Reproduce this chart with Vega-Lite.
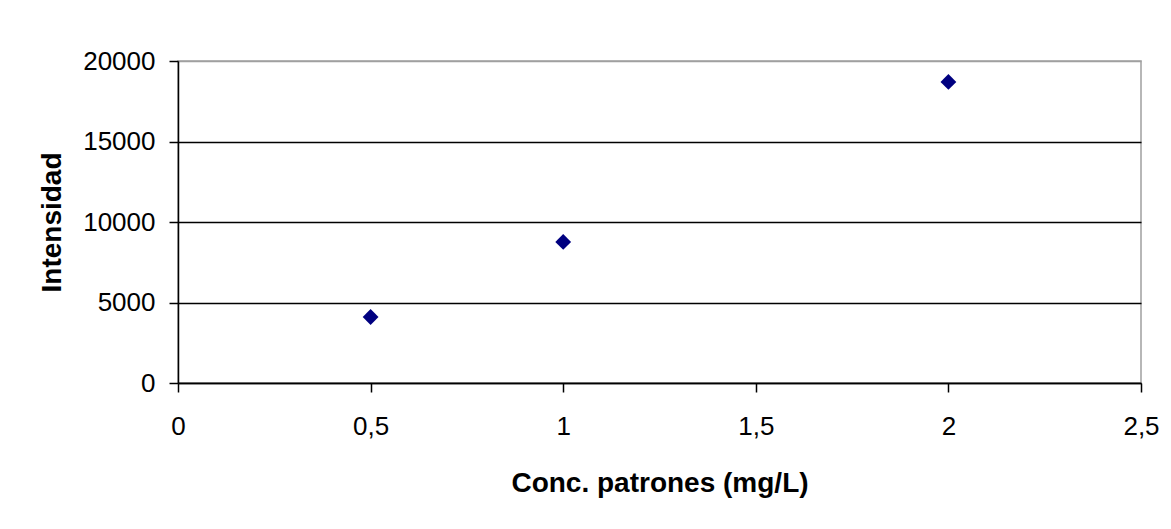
{
  "$schema": "https://vega.github.io/schema/vega-lite/v6.json",
  "width": 963,
  "height": 322,
  "autosize": {"type": "none"},
  "padding": {"left": 178, "top": 61, "right": 30, "bottom": 146},
  "background": "white",
  "config": {
    "font": "Liberation Sans",
    "view": {"stroke": "#a0a0a0", "strokeWidth": 1.5}
  },
  "data": {
    "values": [
      {"conc": 0.5, "intensidad": 4100},
      {"conc": 1, "intensidad": 8760},
      {"conc": 2, "intensidad": 18700}
    ]
  },
  "mark": {"type": "point", "shape": "diamond", "filled": true, "color": "#000080", "size": 250, "opacity": 1},
  "encoding": {
    "x": {
      "field": "conc",
      "type": "quantitative",
      "scale": {"domain": [0, 2.5], "nice": false, "zero": true},
      "axis": {
        "title": "Conc. patrones (mg/L)",
        "values": [0, 0.5, 1, 1.5, 2, 2.5],
        "labelExpr": "replace(toString(datum.value), '.', ',')",
        "grid": false,
        "domainColor": "black",
        "domainWidth": 1.5,
        "tickColor": "black",
        "tickSize": 9,
        "tickWidth": 1.5,
        "labelFont": "Liberation Sans",
        "labelFontSize": 26,
        "labelColor": "black",
        "labelPadding": 21,
        "labelFlush": false,
        "labelOverlap": false,
        "titleFont": "Liberation Sans",
        "titleFontSize": 28,
        "titleFontWeight": "bold",
        "titleColor": "black",
        "titlePadding": 30
      }
    },
    "y": {
      "field": "intensidad",
      "type": "quantitative",
      "scale": {"domain": [0, 20000], "nice": false},
      "axis": {
        "title": "Intensidad",
        "values": [0, 5000, 10000, 15000, 20000],
        "format": "d",
        "grid": true,
        "gridColor": {"condition": {"test": "datum.value === 20000", "value": "#a0a0a0"}, "value": "black"},
        "gridWidth": 1.3,
        "domainColor": "black",
        "domainWidth": 1.5,
        "tickColor": "black",
        "tickSize": 9,
        "tickWidth": 1.5,
        "labelFont": "Liberation Sans",
        "labelFontSize": 26,
        "labelColor": "black",
        "labelPadding": 14,
        "labelFlush": false,
        "labelOverlap": false,
        "titleFont": "Liberation Sans",
        "titleFontSize": 28,
        "titleFontWeight": "bold",
        "titleColor": "black",
        "titlePadding": 16
      }
    }
  }
}
